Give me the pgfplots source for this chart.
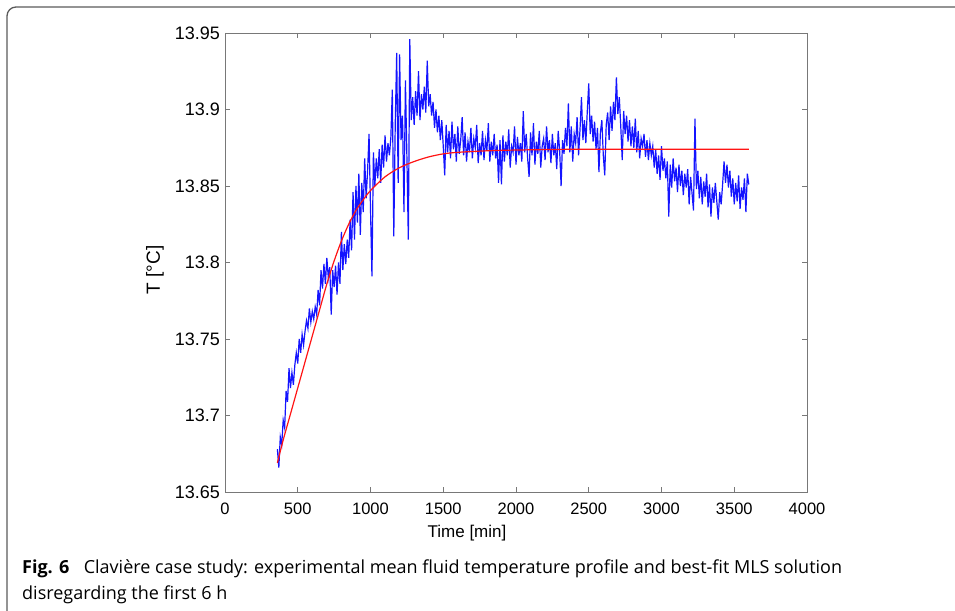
\documentclass[border=0pt]{standalone}
\usepackage{pgfplots}
\pgfplotsset{compat=1.18}
\usepackage{fontspec}
\setmainfont{Liberation Sans}
\newfontfamily\capfont{Open Sans}
\definecolor{axgray}{RGB}{120,120,120}
\definecolor{framegray}{RGB}{90,90,90}
\definecolor{mblue}{RGB}{20,20,255}
\definecolor{mred}{RGB}{255,20,20}
\begin{document}
\begin{tikzpicture}[x=1pt,y=1pt]
\useasboundingbox (0,0) rectangle (955,610);
\draw[framegray,line width=1.3pt,rounded corners=9pt] (7,-2) -- (7,603) -- (958,603);
\begin{axis}[
  at={(225pt,118pt)}, anchor=south west,
  scale only axis, width=582pt, height=459pt,
  xmin=0, xmax=4000, ymin=13.65, ymax=13.95,
  axis line style={axgray, line width=0.9pt},
  tick style={axgray, line width=0.9pt},
  major tick length=5pt,
  tick align=inside,
  xtick={0,500,1000,1500,2000,2500,3000,3500,4000},
  xticklabels={0,500,1000,1500,2000,2500,3000,3500,4000},
  ytick={13.65,13.7,13.75,13.8,13.85,13.9,13.95},
  yticklabels={13.65,13.7,13.75,13.8,13.85,13.9,13.95},
  /pgf/number format/assume math mode=true,
  xticklabel style={font=\fontsize{16.5}{18}\selectfont, inner sep=0pt, anchor=north, yshift=-11pt},
  yticklabel style={font=\fontsize{18}{20}\selectfont, inner sep=0pt, anchor=east, xshift=-5pt},
  clip=true,
]
\addplot[mblue, line width=1.2pt] coordinates {
(360,13.678)(370,13.666)(380,13.686)(390,13.681)(400,13.697)(410,13.692)(420,13.716)(430,13.709)(440,13.731)(450,13.718)
(460,13.728)(470,13.720)(480,13.733)(490,13.741)(500,13.734)(510,13.750)(520,13.741)(530,13.753)(540,13.746)(550,13.755)
(560,13.762)(570,13.757)(580,13.770)(590,13.761)(600,13.768)(610,13.763)(620,13.771)(630,13.766)(640,13.782)(650,13.772)
(660,13.795)(670,13.783)(680,13.799)(690,13.786)(700,13.803)(710,13.790)(720,13.797)(730,13.766)(740,13.795)(750,13.784)
(760,13.798)(770,13.779)(780,13.800)(790,13.786)(800,13.820)(810,13.795)(820,13.812)(830,13.799)(840,13.815)(850,13.803)
(860,13.828)(870,13.808)(880,13.846)(890,13.815)(900,13.850)(910,13.826)(920,13.858)(930,13.818)(940,13.852)(950,13.833)
(960,13.868)(970,13.842)(980,13.860)(990,13.884)(1000,13.835)(1010,13.791)(1020,13.872)(1030,13.850)(1040,13.868)(1050,13.855)
(1060,13.874)(1070,13.852)(1080,13.877)(1090,13.862)(1100,13.883)(1110,13.866)(1120,13.878)(1130,13.870)(1140,13.882)(1150,13.913)
(1160,13.817)(1170,13.890)(1180,13.937)(1190,13.852)(1200,13.936)(1210,13.880)(1220,13.896)(1230,13.833)(1240,13.919)(1250,13.870)
(1260,13.815)(1270,13.946)(1280,13.893)(1290,13.908)(1300,13.890)(1310,13.912)(1320,13.896)(1330,13.925)(1340,13.893)(1350,13.910)
(1360,13.900)(1370,13.915)(1380,13.898)(1390,13.932)(1400,13.902)(1410,13.910)(1420,13.896)(1430,13.905)(1440,13.888)(1450,13.900)
(1460,13.885)(1470,13.896)(1480,13.880)(1490,13.893)(1500,13.876)(1510,13.857)(1520,13.890)(1530,13.872)(1540,13.886)(1550,13.868)
(1560,13.892)(1570,13.874)(1580,13.884)(1590,13.866)(1600,13.889)(1610,13.871)(1620,13.880)(1630,13.895)(1640,13.870)(1650,13.885)
(1660,13.866)(1670,13.879)(1680,13.872)(1690,13.888)(1700,13.868)(1710,13.881)(1720,13.875)(1730,13.890)(1740,13.865)(1750,13.878)
(1760,13.870)(1770,13.886)(1780,13.867)(1790,13.880)(1800,13.873)(1810,13.891)(1820,13.866)(1830,13.879)(1840,13.870)(1850,13.884)
(1860,13.868)(1870,13.877)(1880,13.852)(1890,13.880)(1900,13.851)(1910,13.883)(1920,13.866)(1930,13.879)(1940,13.870)(1950,13.887)
(1960,13.862)(1970,13.876)(1980,13.872)(1990,13.889)(2000,13.864)(2010,13.882)(2020,13.870)(2030,13.878)(2040,13.866)(2050,13.899)
(2060,13.872)(2070,13.884)(2080,13.868)(2090,13.856)(2100,13.885)(2110,13.870)(2120,13.891)(2130,13.864)(2140,13.879)(2150,13.871)
(2160,13.886)(2170,13.862)(2180,13.876)(2190,13.881)(2200,13.867)(2210,13.889)(2220,13.872)(2230,13.880)(2240,13.865)(2250,13.884)
(2260,13.870)(2270,13.878)(2280,13.861)(2290,13.886)(2300,13.873)(2310,13.850)(2320,13.880)(2330,13.871)(2340,13.888)(2350,13.876)
(2360,13.904)(2370,13.872)(2380,13.889)(2390,13.866)(2400,13.884)(2410,13.878)(2420,13.895)(2430,13.870)(2440,13.887)(2450,13.908)
(2460,13.880)(2470,13.893)(2480,13.878)(2490,13.899)(2500,13.917)(2510,13.884)(2520,13.896)(2530,13.879)(2540,13.892)(2550,13.874)
(2560,13.888)(2570,13.859)(2580,13.885)(2590,13.893)(2600,13.870)(2610,13.857)(2620,13.890)(2630,13.898)(2640,13.880)(2650,13.902)
(2660,13.886)(2670,13.905)(2680,13.893)(2690,13.921)(2700,13.897)(2710,13.908)(2720,13.889)(2730,13.867)(2740,13.899)(2750,13.884)
(2760,13.896)(2770,13.879)(2780,13.893)(2790,13.876)(2800,13.889)(2810,13.875)(2820,13.894)(2830,13.872)(2840,13.886)(2850,13.868)
(2860,13.881)(2870,13.876)(2880,13.884)(2890,13.869)(2900,13.880)(2910,13.867)(2920,13.878)(2930,13.870)(2940,13.876)(2950,13.862)
(2960,13.874)(2970,13.858)(2980,13.870)(2990,13.854)(3000,13.876)(3010,13.860)(3020,13.868)(3030,13.855)(3040,13.866)(3050,13.830)
(3060,13.864)(3070,13.849)(3080,13.868)(3090,13.853)(3100,13.862)(3110,13.846)(3120,13.864)(3130,13.850)(3140,13.860)(3150,13.844)
(3160,13.858)(3170,13.849)(3180,13.861)(3190,13.838)(3200,13.856)(3210,13.845)(3220,13.834)(3230,13.894)(3240,13.848)(3250,13.860)
(3260,13.842)(3270,13.856)(3280,13.838)(3290,13.853)(3300,13.843)(3310,13.858)(3320,13.836)(3330,13.851)(3340,13.830)(3350,13.849)
(3360,13.839)(3370,13.852)(3380,13.840)(3390,13.828)(3400,13.846)(3410,13.838)(3420,13.851)(3430,13.866)(3440,13.852)(3450,13.864)
(3460,13.849)(3470,13.860)(3480,13.843)(3490,13.855)(3500,13.838)(3510,13.852)(3520,13.840)(3530,13.857)(3540,13.835)(3550,13.849)
(3560,13.841)(3570,13.855)(3580,13.833)(3590,13.858)(3600,13.851)
};
\addplot[mred, line width=1.2pt, smooth] coordinates {
(360,13.669)(400,13.684)(450,13.701)(500,13.718)(550,13.735)(600,13.752)(650,13.769)(700,13.786)(750,13.801)(800,13.814)
(850,13.825)(900,13.834)(950,13.841)(1000,13.847)(1100,13.856)(1200,13.862)(1300,13.866)(1400,13.869)(1500,13.871)(1600,13.872)
(1800,13.873)(2000,13.8735)(2400,13.874)(3000,13.874)(3600,13.874)
};
\end{axis}
\node[font=\fontsize{19}{21}\selectfont, rotate=90] at (155,340) {T [°C]};
\node[font=\fontsize{17}{19}\selectfont] at (467,77) {Time [min]};
\node[font=\capfont\fontsize{18}{26}\selectfont, anchor=base west, inner sep=0pt] at (22,37) {\textbf{Fig. 6}\hspace{0.8em}Clavière case study: experimental mean fluid temperature profile and best-fit MLS solution};
\node[font=\capfont\fontsize{18}{26}\selectfont, anchor=base west, inner sep=0pt] at (22,11) {disregarding the first 6 h};
\end{tikzpicture}
\end{document}
